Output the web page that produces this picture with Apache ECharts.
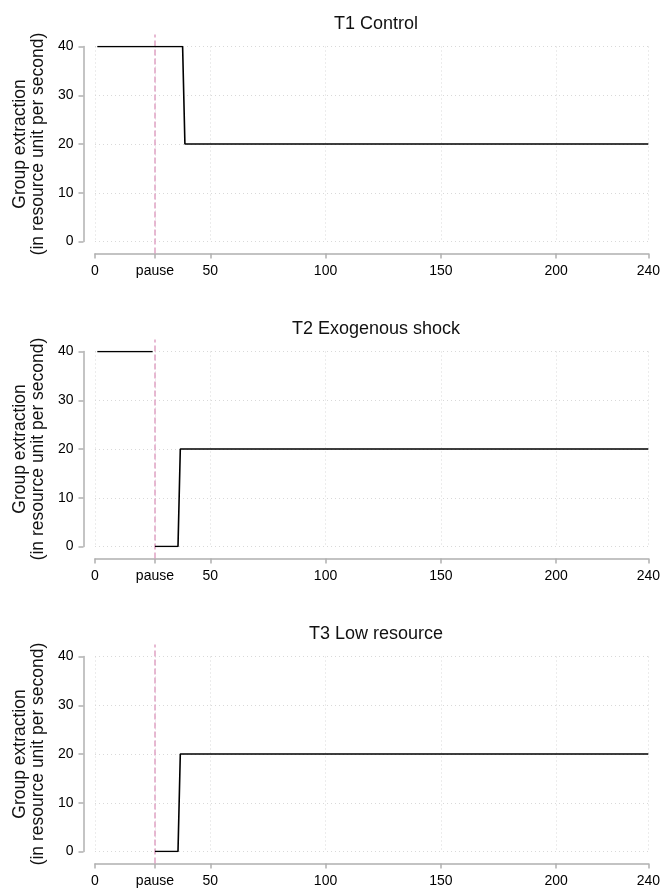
<!DOCTYPE html>
<html>
<head>
<meta charset="utf-8">
<script src="https://cdn.jsdelivr.net/npm/echarts@6/dist/echarts.min.js"></script>
<style>html,body{margin:0;padding:0;background:#fff;}#chart{width:663px;height:890px;}</style>
</head>
<body>
<div id="chart"></div>
<script>
// ---- data ----
const panelTitles = ['T1 Control', 'T2 Exogenous shock', 'T3 Low resource'];
const xTickValues = [0, 26, 50, 100, 150, 200, 240];
const xTickLabels = ['0', 'pause', '50', '100', '150', '200', '240'];
const yTickValues = [0, 10, 20, 30, 40];
const pauseTime = 26;
const yAxisTitle = 'Group extraction\n(in resource unit per second)';

// T1 Control
const t1Time = [1, 38, 39, 240];
const t1Extraction = [40, 40, 20, 20];
// T2 Exogenous shock (before pause / after pause)
const t2BeforeTime = [1, 25];
const t2BeforeExtraction = [40, 40];
const t2AfterTime = [26, 36, 37, 240];
const t2AfterExtraction = [0, 0, 20, 20];
// T3 Low resource
const t3Time = [26, 36, 37, 240];
const t3Extraction = [0, 0, 20, 20];

const panelSegments = [
  [[t1Time, t1Extraction]],
  [[t2BeforeTime, t2BeforeExtraction], [t2AfterTime, t2AfterExtraction]],
  [[t3Time, t3Extraction]]
];

// ---- layout ----
const FONT = '"Liberation Sans", Arial, sans-serif';
const plotLeft = 95, plotWidth = 556, plotHeight = 195;
const panelTops = [46.5, 351.5, 656.5];
const axisOffset = 12;

const zip = (xs, ys) => xs.map((x, i) => [x, ys[i]]);

const grids = [], xAxes = [], yAxes = [], series = [], titles = [];
panelTops.forEach((top, p) => {
  grids.push({left: plotLeft, top: top, width: plotWidth, height: plotHeight});
  titles.push({
    text: panelTitles[p], left: plotLeft + plotWidth / 2 - 2, top: top - 36, textAlign: 'center',
    textStyle: {fontFamily: FONT, fontSize: 18, fontWeight: 'normal', color: '#111'}
  });
  xAxes.push({
    type: 'value', gridIndex: p, min: 0, max: 240, interval: 50, offset: axisOffset,
    axisLine: {show: true, onZero: false, lineStyle: {color: '#b0b0b0', width: 1.5}},
    axisTick: {show: true, length: 5, customValues: xTickValues, lineStyle: {color: '#b0b0b0', width: 1.5}},
    axisLabel: {
      customValues: xTickValues,
      formatter: v => xTickLabels[xTickValues.indexOf(v)],
      fontFamily: FONT, fontSize: 14, color: '#000', margin: 11
    },
    splitLine: {show: true, showMaxLine: true, lineStyle: {color: '#d9d9d9', type: [1, 3], width: 1}}
  });
  yAxes.push({
    type: 'value', gridIndex: p, min: 0, max: 40, interval: 10, offset: 11.5,
    name: yAxisTitle, nameLocation: 'middle', nameGap: 29, nameRotate: 90,
    nameTextStyle: {fontFamily: FONT, fontSize: 17.5, color: '#111', lineHeight: 18, align: 'center'},
    axisLine: {show: true, onZero: false, lineStyle: {color: '#b0b0b0', width: 1.5}},
    axisTick: {show: true, length: 5, lineStyle: {color: '#b0b0b0', width: 1.5}},
    axisLabel: {fontFamily: FONT, fontSize: 14, color: '#000', margin: 10},
    splitLine: {show: true, lineStyle: {color: '#d9d9d9', type: [1, 3], width: 1}}
  });
  panelSegments[p].forEach(([xs, ys]) => {
    series.push({
      type: 'line', xAxisIndex: p, yAxisIndex: p, data: zip(xs, ys),
      showSymbol: false, symbol: 'none', animation: false, z: 5,
      lineStyle: {color: '#000', width: 1.6}
    });
  });
});

// overlay grids for the pause markers (extend above plot and down to x axis line)
panelTops.forEach((top, p) => {
  const gi = panelTops.length + p;
  grids.push({left: plotLeft, top: top - 12, width: plotWidth, height: plotHeight + 12 + axisOffset});
  xAxes.push({type: 'value', gridIndex: gi, min: 0, max: 240, show: false});
  yAxes.push({type: 'value', gridIndex: gi, min: 0, max: 1, show: false});
  series.push({
    type: 'line', xAxisIndex: gi, yAxisIndex: gi, data: [], z: 1, animation: false,
    markLine: {
      silent: true, symbol: 'none', animation: false, label: {show: false},
      lineStyle: {color: '#e0a3c4', type: [6, 3], width: 1.5},
      data: [{xAxis: pauseTime}]
    }
  });
});

const chart = echarts.init(document.getElementById('chart'), null, {renderer: 'canvas'});
chart.setOption({
  animation: false,
  backgroundColor: '#fff',
  title: titles,
  grid: grids,
  xAxis: xAxes,
  yAxis: yAxes,
  series: series
});
</script>
</body>
</html>
